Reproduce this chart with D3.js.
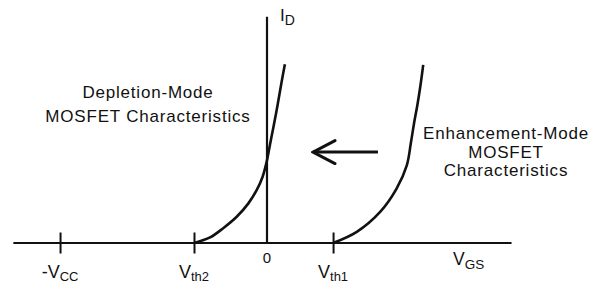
<!DOCTYPE html>
<html>
<head>
<meta charset="utf-8">
<script src="https://cdn.jsdelivr.net/npm/d3@7"></script>
<style>
	body { margin: 0; background: #fff; }
	svg text { font-family: "Liberation Sans", Arial, Helvetica, sans-serif; fill: #111; }
</style>
</head>
<body>
<div id="chart"></div>
<script>
// volts along V_GS, arbitrary units for I_D
const tickNames = [["-V", "CC"], ["V", "th2"], ["V", "th1"]];
const tickVolts = [-5.67, -2, 1.81];
const axisExtent = [-6.95, 6.7];
const idTop = 10.1;

const depletionV = [-2, -1.56, -1.2, -0.83, -0.51, -0.28, -0.12, -0.01, 0.08, 0.17, 0.29, 0.4, 0.49];
const depletionI = [0, 0.25, 0.66, 1.17, 1.77, 2.37, 2.96, 3.62, 4.38, 5.12, 6.16, 7.19, 7.98];
const enhancementV = [1.81, 2.46, 3.1, 3.55, 3.83, 3.94, 4.03, 4.12, 4.21, 4.28];
const enhancementI = [0, 0.5, 1.39, 2.43, 3.47, 4.45, 5.36, 6.16, 7.1, 7.95];

const arrowV = [3.04, 1.26];
const arrowI = 4.06;

const width = 600, height = 282;

const svg = d3.select('#chart')
	.append('svg')
		.attr('width', width)
		.attr('height', height);

const x = d3.scaleLinear().domain([-7, 7]).range([11.5, 522.5]);
const y = d3.scaleLinear().domain([0, 10]).range([243, 19]);

// axes
svg.append('line')
	.attr('x1', x(axisExtent[0])).attr('x2', x(axisExtent[1]))
	.attr('y1', y(0)).attr('y2', y(0))
	.attr('stroke', '#111').attr('stroke-width', 2.2);

svg.append('line')
	.attr('x1', x(0)).attr('x2', x(0))
	.attr('y1', y(idTop)).attr('y2', y(0))
	.attr('stroke', '#111').attr('stroke-width', 2.2);

const xAxis = d3.axisBottom(x)
	.tickValues(tickVolts)
	.tickSize(21)
	.tickFormat('');

const axG = svg.append('g')
	.attr('transform', `translate(0, ${y(0) - 10.5})`)
	.call(xAxis);
axG.select('.domain').remove();
axG.selectAll('.tick line').attr('stroke', '#111').attr('stroke-width', 2);

// tick labels with subscripts
tickVolts.forEach(function(v, i) {
	const t = svg.append('text')
		.attr('x', x(v))
		.attr('y', 278)
		.attr('text-anchor', 'middle')
		.attr('font-size', 18);
	t.append('tspan').text(tickNames[i][0]);
	t.append('tspan').attr('font-size', 13).attr('dy', 2.5).text(tickNames[i][1]);
});

svg.append('text')
	.attr('x', x(0))
	.attr('y', 263)
	.attr('text-anchor', 'middle')
	.attr('font-size', 15)
	.text('0');

const vgs = svg.append('text')
	.attr('x', 453)
	.attr('y', 265)
	.attr('font-size', 17.5);
vgs.append('tspan').text('V');
vgs.append('tspan').attr('font-size', 13.5).attr('dy', 4).text('GS');

const idl = svg.append('text')
	.attr('x', 280)
	.attr('y', 21)
	.attr('font-size', 17);
idl.append('tspan').text('I');
idl.append('tspan').attr('font-size', 14).attr('dy', 4).text('D');

// curves
const line = d3.line()
	.x(d => x(d[0]))
	.y(d => y(d[1]))
	.curve(d3.curveCatmullRom.alpha(0.5));

svg.append('path')
	.datum(d3.zip(depletionV, depletionI))
	.attr('d', line)
	.attr('fill', 'none').attr('stroke', '#111').attr('stroke-width', 2.6);

svg.append('path')
	.datum(d3.zip(enhancementV, enhancementI))
	.attr('d', line)
	.attr('fill', 'none').attr('stroke', '#111').attr('stroke-width', 2.6);

// arrow
svg.append('defs').append('marker')
	.attr('id', 'head')
	.attr('markerUnits', 'userSpaceOnUse')
	.attr('viewBox', '-26 -14 28 28')
	.attr('markerWidth', 28).attr('markerHeight', 28)
	.attr('refX', 0).attr('refY', 0)
	.attr('orient', 'auto')
	.append('path')
		.attr('d', 'M-22,-11.5L0,0L-22,11.5')
		.attr('fill', 'none').attr('stroke', '#111').attr('stroke-width', 3)
		.attr('stroke-linecap', 'round');

svg.append('line')
	.attr('x1', x(arrowV[0])).attr('x2', x(arrowV[1]))
	.attr('y1', y(arrowI)).attr('y2', y(arrowI))
	.attr('stroke', '#111').attr('stroke-width', 3)
	.attr('marker-end', 'url(#head)');

// annotations
const notes = [
	{ lines: ['Depletion-Mode', 'MOSFET Characteristics'], cx: 148, y0: 98, dy: 23.5 },
	{ lines: ['Enhancement-Mode', 'MOSFET', 'Characteristics'], cx: 506, y0: 139, dy: 18.5 }
];
notes.forEach(function(n) {
	n.lines.forEach(function(s, i) {
		svg.append('text')
			.attr('x', n.cx)
			.attr('y', n.y0 + i * n.dy)
			.attr('text-anchor', 'middle')
			.attr('font-size', 17)
			.attr('letter-spacing', 0.8)
			.text(s);
	});
});
</script>
</body>
</html>
